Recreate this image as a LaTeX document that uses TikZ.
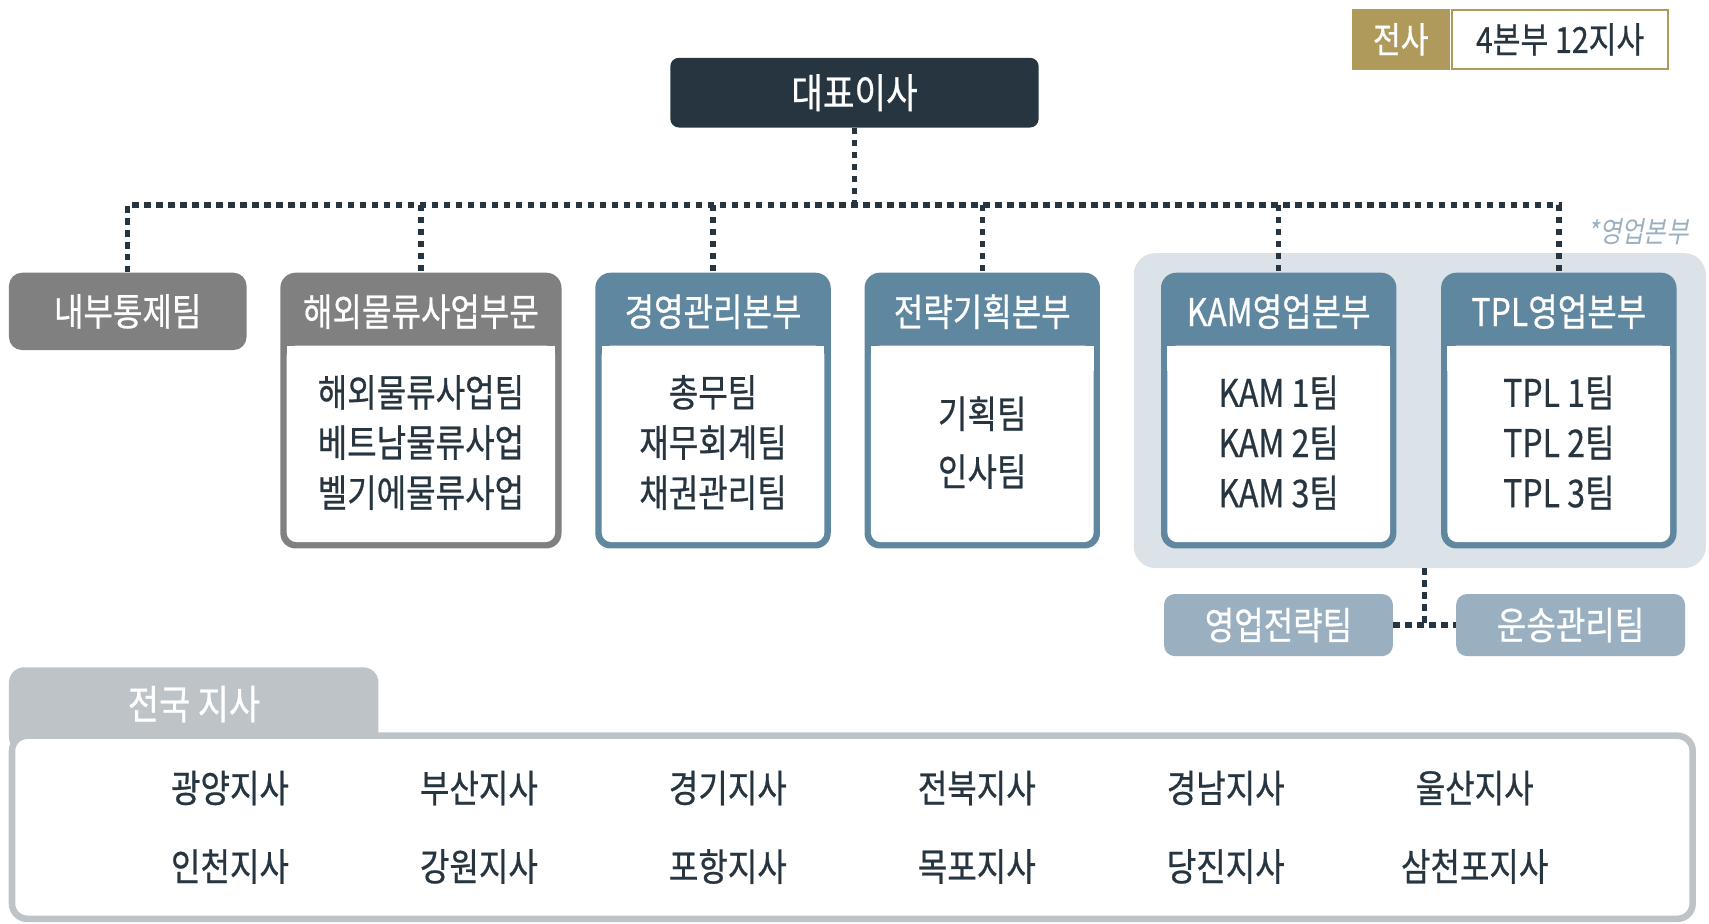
\documentclass[tikz,border=0pt]{standalone}
\usepackage{fontspec}
\setmainfont{Noto Sans CJK KR}[FakeStretch=0.84,FakeBold=0.6]
\newfontfamily\slantfont{Noto Sans CJK KR}[FakeStretch=0.84,FakeSlant=0.2]
\usetikzlibrary{positioning}

\definecolor{ink}{HTML}{263540}
\definecolor{gold}{HTML}{AF9A5C}
\definecolor{unitgray}{HTML}{808080}
\definecolor{steel}{HTML}{5F87A0}
\definecolor{salesbg}{HTML}{DBE3E9}
\definecolor{teamblue}{HTML}{9AB0C0}
\definecolor{branchgray}{HTML}{BEC3C7}

\tikzset{
  dotline/.style={ink, line width=5pt, dash pattern=on 6pt off 5pt},
  headtext/.style={text=white, font=\fontsize{35}{40}\selectfont},
  bodytext/.style={text=ink, align=center, font=\fontsize{35}{46}\selectfont},
  unitframe/.style={fill=#1, rounded corners=14pt, anchor=north west,
    minimum height=253pt, inner sep=0pt},
  team/.style={fill=teamblue, rounded corners=10pt, minimum width=210pt,
    minimum height=57pt, headtext},
  branch/.style={text=ink, font=\fontsize{35}{40}\selectfont},
}

% unit box: [width] name, left x, colour, title, body
\newcommand\unitbox[6][216]{%
  \node[unitframe=#4, minimum width=#1pt] (#2) at (#3,250) {};
  \fill[white, rounded corners=9pt] ([xshift=6pt,yshift=-67pt]#2.north west)
    rectangle ([xshift=-6pt,yshift=6pt]#2.south east);
  \fill[white] ([xshift=6pt,yshift=-67pt]#2.north west)
    rectangle ([xshift=-6pt,yshift=-90pt]#2.north east);
  \node[headtext] at ([yshift=-36pt]#2.north) {#5};
  \node[bodytext] (#2-body) at ([yshift=-156pt]#2.north) {#6};
}

\begin{document}
\begin{tikzpicture}[x=1pt,y=-1pt]
    \useasboundingbox (0,0) rectangle (1568,847);

    % top
    \node[fill=gold, text=white, minimum width=90pt, minimum height=56pt,
      anchor=north west, font=\fontsize{33}{36}\selectfont] (whole) at (1240,8) {전사};
    \node[draw=gold, line width=2pt, fill=white, text=ink, minimum width=198pt,
      minimum height=54pt, anchor=west, font=\fontsize{33}{36}\selectfont]
      (size) at ([xshift=1pt]whole.east) {4본부 12지사};
    \node[fill=ink, text=white, rounded corners=8pt, minimum width=338pt,
      minimum height=64pt, font=\fontsize{37.5}{40}\selectfont] (ceo) at (784,85) {대표이사};

    % sales group
    \node[fill=salesbg, rounded corners=20pt, minimum width=525pt,
      minimum height=289pt, anchor=north west] (sales) at (1040,232) {};
    \node[text=teamblue, font=\slantfont\fontsize{26.5}{28}\selectfont] at (1503,213) {*영업본부};

    % units
    \node[fill=unitgray, rounded corners=12pt, minimum width=218pt, minimum height=71pt,
      anchor=north west, headtext] (audit) at (8,250) {내부통제팀};
    \unitbox[258]{overseas}{257}{unitgray}{해외물류사업부문}{해외물류사업팀\\베트남물류사업\\벨기에물류사업}
    \unitbox{mgmt}{546}{steel}{경영관리본부}{총무팀\\재무회계팀\\채권관리팀}
    \unitbox{plan}{793}{steel}{전략기획본부}{기획팀\\[7pt]인사팀}
    \unitbox{kam}{1065}{steel}{KAM영업본부}{KAM 1팀\\KAM 2팀\\KAM 3팀}
    \unitbox{tpl}{1322}{steel}{TPL영업본부}{TPL 1팀\\TPL 2팀\\TPL 3팀}

    \node[team] (strategy) at (1173,573.5) {영업전략팀};
    \node[team] (transport) at (1441,573.5) {운송관리팀};

    % connectors
    \coordinate (hub) at (784,188);
    \coordinate (split) at (1307,573.5);
    \draw[dotline] (ceo.south) -- (hub);
    \draw[dotline] (audit.north) |- (hub) -| (tpl.north);
    \foreach \u in {overseas,mgmt,plan,kam}
      \draw[dotline] (\u.north |- hub) -- (\u.north);
    \draw[dotline] (strategy.east) -- (transport.west);
    \draw[dotline] (split |- sales.south) -- (split);

    % branches
    \node[fill=branchgray, rounded corners=14pt, minimum width=339pt, minimum height=78pt,
      anchor=north west] (tab) at (8,612) {};
    \node[text=white, font=\fontsize{37}{40}\selectfont] at (178,646) {전국 지사};
    \draw[branchgray, line width=6pt, fill=white, rounded corners=14pt]
      (11,675) rectangle (1553,843);
    \fill[branchgray] (8,672) rectangle (40,678);
    \foreach \b [count=\i from 0] in {광양지사,부산지사,경기지사,전북지사,경남지사,울산지사}
      \node[branch] (up\i) at (211+228.4*\i,723) {\b};
    \foreach \b [count=\i from 0] in {인천지사,강원지사,포항지사,목포지사,당진지사,삼천포지사}
      \node[branch] (down\i) at (211+228.4*\i,795) {\b};
\end{tikzpicture}
\end{document}
